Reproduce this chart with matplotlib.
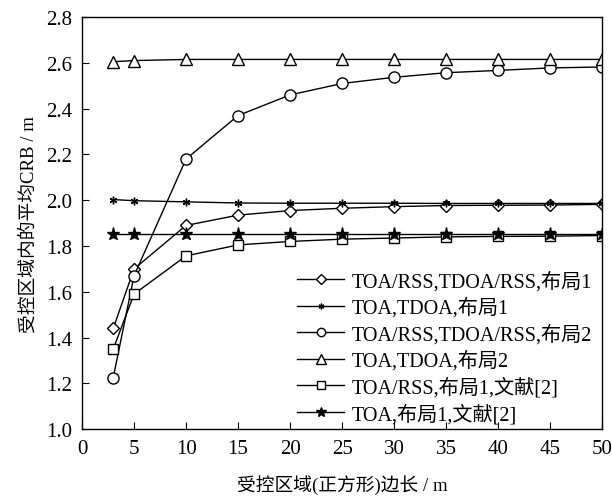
import numpy as np
from matplotlib import pyplot as plt

plt.rcParams['font.family'] = ['Liberation Serif', 'Noto Sans CJK SC']

x = [3, 5, 10, 15, 20, 25, 30, 35, 40, 45, 50]
y_diamond = [1.44, 1.70, 1.89, 1.935, 1.955, 1.965, 1.972, 1.977, 1.978, 1.979, 1.982]
y_asterisk = [2.003, 1.998, 1.993, 1.988, 1.987, 1.987, 1.987, 1.986, 1.986, 1.986, 1.986]
y_circle = [1.225, 1.67, 2.18, 2.37, 2.46, 2.51, 2.537, 2.557, 2.567, 2.578, 2.582]
y_triangle = [2.605, 2.61, 2.615, 2.615, 2.615, 2.615, 2.615, 2.615, 2.615, 2.615, 2.615]
y_square = [1.35, 1.59, 1.757, 1.805, 1.82, 1.83, 1.835, 1.84, 1.842, 1.843, 1.846]
y_star = [1.853, 1.853, 1.853, 1.853, 1.853, 1.853, 1.853, 1.853, 1.853, 1.853, 1.853]

labels = ['TOA/RSS,TDOA/RSS,布局1', 'TOA,TDOA,布局1', 'TOA/RSS,TDOA/RSS,布局2',
          'TOA,TDOA,布局2', 'TOA/RSS,布局1,文献[2]', 'TOA,布局1,文献[2]']

fig = plt.figure(figsize=(6.12, 5.02), dpi=100)
ax = fig.add_axes([0.134, 0.143, 0.850, 0.821])

kw = dict(color='black', linewidth=1.0, markerfacecolor='white', markeredgecolor='black', markeredgewidth=1.0)
ax.plot(x, y_diamond, marker='D', markersize=6.5, label=labels[0], **kw)
ax.plot(x, y_asterisk, marker=(6, 2, 0), markersize=5.5, label=labels[1], **kw)
ax.plot(x, y_circle, marker='o', markersize=8, label=labels[2], **kw)
ax.plot(x, y_triangle, marker='^', markersize=9, label=labels[3], **kw)
ax.plot(x, y_square, marker='s', markersize=7.5, label=labels[4], **kw)
ax.plot(x, y_star, color='black', linewidth=1.0, marker='*', markersize=9.5,
        markerfacecolor='black', markeredgecolor='black', label=labels[5])

ax.set_xlim(0, 50)
ax.set_ylim(1.0, 2.8)
ax.set_xticks(np.arange(0, 51, 5))
ax.set_yticks(np.arange(1.0, 2.81, 0.2))
ax.set_yticklabels(['%.1f' % v for v in np.arange(1.0, 2.81, 0.2)])
ax.tick_params(direction='in', labelsize=15, length=5, top=False, right=False, pad=7)
for s in ax.spines.values():
    s.set_linewidth(1.0)

ax.set_xlabel('受控区域(正方形)边长 / m', fontsize=13.5, labelpad=12)
ax.set_ylabel('受控区域内的平均CRB / m', fontsize=13.5, labelpad=6)

ax.legend(loc='lower right', bbox_to_anchor=(1.0, -0.012), frameon=False, fontsize=14.5,
          handlelength=2.3, borderaxespad=0.1, labelspacing=0.3, handletextpad=0.4,
          markerscale=0.75)

fig.savefig('out.png', dpi=100)
